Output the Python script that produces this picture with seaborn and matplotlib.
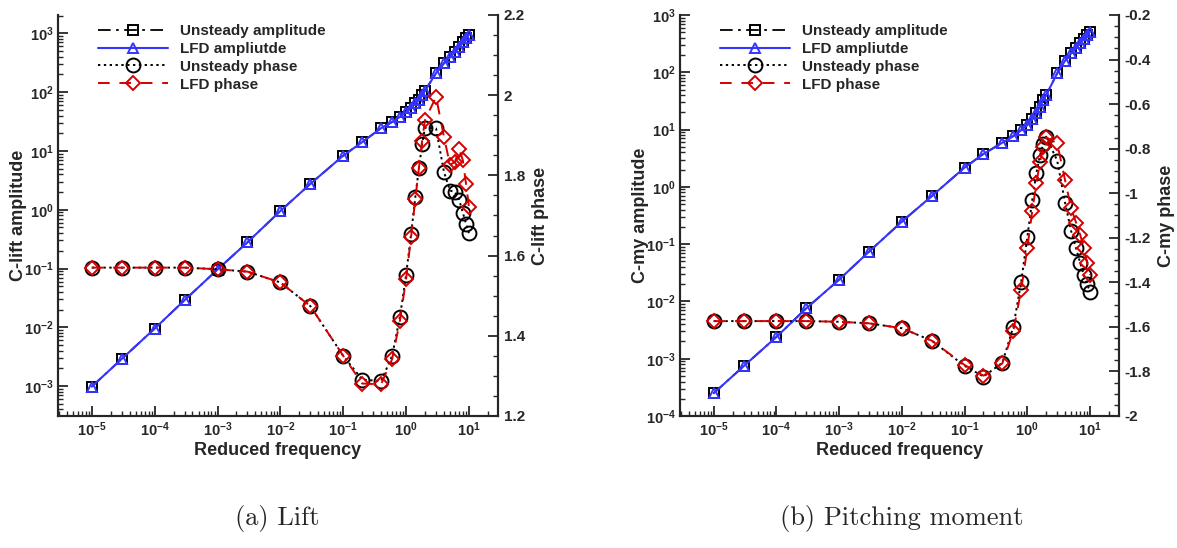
import numpy as np
import matplotlib
matplotlib.use("Agg")
import matplotlib.pyplot as plt
import seaborn as sns
from matplotlib.ticker import (FixedLocator, LogLocator, FuncFormatter, MultipleLocator,
                               NullFormatter, LogFormatterSciNotation)

# reduced frequencies (same for both cases)
freq = [1e-5, 3e-5, 1e-4, 3e-4, 1e-3, 3e-3, 1e-2, 3e-2, 0.1, 0.2, 0.4, 0.6, 0.8,
        1.0, 1.2, 1.4, 1.6, 1.8, 2.0, 3, 4, 5, 6, 7, 8, 9, 10]

# --- lift ---
lift_amp_unsteady = [9.8e-4, 2.9e-3, 9.5e-3, 2.9e-2, 0.096, 0.28, 0.95, 2.75, 8.3, 14.1,
                     24.4, 31, 38, 45.5, 54, 65, 73, 89, 106, 210, 309, 390, 476, 580,
                     700, 830, 950]
lift_amp_lfd = [9.8e-4, 2.9e-3, 9.5e-3, 2.9e-2, 0.096, 0.28, 0.95, 2.75, 8.3, 14.1,
                24.4, 31, 38, 45.5, 54, 65, 73, 89, 106, 210, 309, 390, 476, 580,
                700, 830, 950]
lift_phase_unsteady = [1.570, 1.570, 1.570, 1.570, 1.566, 1.560, 1.533, 1.474, 1.350,
                       1.291, 1.287, 1.350, 1.448, 1.552, 1.653, 1.745, 1.818, 1.878,
                       1.919, 1.917, 1.809, 1.762, 1.759, 1.739, 1.707, 1.679, 1.656]
lift_phase_lfd = [1.570, 1.570, 1.570, 1.570, 1.566, 1.560, 1.533, 1.474, 1.350,
                  1.281, 1.279, 1.342, 1.438, 1.541, 1.646, 1.740, 1.818, 1.887,
                  1.938, 1.996, 1.897, 1.826, 1.834, 1.865, 1.838, 1.778, 1.722]

# --- pitching moment ---
moment_amp_unsteady = [2.5e-4, 7.4e-4, 2.4e-3, 7.6e-3, 0.024, 0.074, 0.247, 0.69, 2.17,
                       3.75, 5.9, 7.7, 9.8, 12, 15.1, 19.2, 25, 33, 40, 96, 159, 213,
                       262, 323, 379, 448, 513]
moment_amp_lfd = [2.5e-4, 7.4e-4, 2.4e-3, 7.6e-3, 0.024, 0.074, 0.247, 0.69, 2.17,
                  3.75, 5.9, 7.7, 9.8, 12, 15.1, 19.2, 25, 33, 40, 96, 159, 213,
                  262, 323, 379, 448, 513]
moment_phase_unsteady = [-1.574, -1.574, -1.574, -1.574, -1.577, -1.584, -1.606, -1.662,
                         -1.775, -1.823, -1.761, -1.599, -1.397, -1.198, -1.030, -0.908,
                         -0.828, -0.779, -0.746, -0.854, -1.042, -1.170, -1.247, -1.315,
                         -1.367, -1.407, -1.442]
moment_phase_lfd = [-1.574, -1.574, -1.574, -1.574, -1.577, -1.584, -1.606, -1.662,
                    -1.771, -1.819, -1.764, -1.618, -1.434, -1.247, -1.080, -0.953,
                    -0.858, -0.794, -0.749, -0.776, -0.941, -1.068, -1.132, -1.188,
                    -1.247, -1.315, -1.367]

# major tick positions
x_ticks = [1e-5, 1e-4, 1e-3, 1e-2, 1e-1, 1e0, 1e1]
lift_amp_ticks = [1e-3, 1e-2, 1e-1, 1e0, 1e1, 1e2, 1e3]
moment_amp_ticks = [1e-4, 1e-3, 1e-2, 1e-1, 1e0, 1e1, 1e2, 1e3]

legend_labels = ["Unsteady amplitude", "LFD ampliutde", "Unsteady phase", "LFD phase"]

sns.set_style("ticks")
plt.rcParams["font.family"] = ["Liberation Sans", "DejaVu Sans"]
plt.rcParams["font.weight"] = "bold"
plt.rcParams["axes.labelweight"] = "bold"
plt.rcParams["axes.linewidth"] = 1.5

BLUE = "#3535ff"
RED = "#d40000"


def draw_panel(ax, amp_u, amp_l, ph_u, ph_l, amp_lim, amp_ticks, ph_lim, amp_label, ph_label):
    ax2 = ax.twinx()

    sns.lineplot(x=freq, y=amp_u, ax=ax, color="black", linestyle=(0, (7, 3, 1.5, 3)),
                 marker="s", markersize=7.5, markerfacecolor="none", markeredgecolor="black",
                 markeredgewidth=1.4, linewidth=1.3, errorbar=None, legend=False)
    sns.lineplot(x=freq, y=amp_l, ax=ax, color=BLUE, linestyle="-",
                 marker="^", markersize=7.5, markerfacecolor="none", markeredgecolor=BLUE,
                 markeredgewidth=1.4, linewidth=1.5, errorbar=None, legend=False)
    sns.lineplot(x=freq, y=ph_u, ax=ax2, color="black", linestyle=(0, (1.2, 1.8)),
                 marker="o", markersize=10, markerfacecolor="none", markeredgecolor="black",
                 markeredgewidth=1.4, linewidth=1.4, errorbar=None, legend=False)
    sns.lineplot(x=freq, y=ph_l, ax=ax2, color=RED, linestyle=(0, (6, 5)),
                 marker="D", markersize=7, markerfacecolor="none", markeredgecolor=RED,
                 markeredgewidth=1.4, linewidth=1.4, errorbar=None, legend=False)

    ax.set_xscale("log")
    ax.set_yscale("log")
    ax.set_xlim(2.9e-6, 2.9e1)
    ax.set_ylim(*amp_lim)
    ax2.set_ylim(*ph_lim)

    for a in (ax, ax2):
        a.spines["top"].set_visible(False)
        a.grid(False)

    ax.xaxis.set_major_locator(FixedLocator(x_ticks))
    ax.xaxis.set_major_formatter(LogFormatterSciNotation())
    ax.xaxis.set_minor_locator(LogLocator(base=10, subs=np.arange(2, 10), numticks=60))
    ax.xaxis.set_minor_formatter(NullFormatter())
    ax.yaxis.set_major_locator(FixedLocator(amp_ticks))
    ax.yaxis.set_major_formatter(LogFormatterSciNotation())
    ax.yaxis.set_minor_locator(LogLocator(base=10, subs=np.arange(2, 10), numticks=60))
    ax.yaxis.set_minor_formatter(NullFormatter())
    ax2.yaxis.set_major_locator(MultipleLocator(0.2))
    ax2.yaxis.set_minor_locator(MultipleLocator(0.05))
    ax2.yaxis.set_major_formatter(FuncFormatter(lambda v, p: f"{v:g}"))

    ax.tick_params(which="both", direction="in", top=False, right=False, labelsize=10.5, pad=3)
    ax.tick_params(which="major", length=7, width=1.3)
    ax.tick_params(which="minor", length=3.5, width=1.0)
    ax2.tick_params(which="both", direction="in", left=False, right=True, labelsize=11, pad=4)
    ax2.tick_params(which="major", length=7, width=1.3)
    ax2.tick_params(which="minor", length=3.5, width=1.0)

    ax.set_xlabel("Reduced frequency", fontsize=13, labelpad=2)
    ax.set_ylabel(amp_label, fontsize=13, labelpad=-2)
    ax2.set_ylabel(ph_label, fontsize=13, labelpad=5)

    handles = [ax.lines[0], ax.lines[1], ax2.lines[0], ax2.lines[1]]
    ax2.legend(handles, legend_labels, loc="upper left", bbox_to_anchor=(0.07, 1.0),
               frameon=False, fontsize=11, handlelength=4.6, handletextpad=0.8,
               labelspacing=0.25, borderaxespad=0.2)
    return ax2


fig = plt.figure(figsize=(11.77, 5.48), dpi=100)
ax_lift = fig.add_axes([58 / 1177, 1 - 416 / 548, 440 / 1177, 401 / 548])
ax_moment = fig.add_axes([680 / 1177, 1 - 416 / 548, 439 / 1177, 401 / 548])

draw_panel(ax_lift, lift_amp_unsteady, lift_amp_lfd, lift_phase_unsteady, lift_phase_lfd,
           (3.1e-4, 2.05e3), lift_amp_ticks, (1.2, 2.2), "C-lift amplitude", "C-lift phase")
draw_panel(ax_moment, moment_amp_unsteady, moment_amp_lfd, moment_phase_unsteady,
           moment_phase_lfd, (1e-4, 1e3), moment_amp_ticks, (-2.0, -0.2),
           "C-my amplitude", "C-my phase")

fig.text(277 / 1177, 1 - 518 / 548, "(a) Lift", ha="center", va="center",
         family="cmr10", fontweight="normal", fontsize=19)
fig.text(902 / 1177, 1 - 518 / 548, "(b) Pitching moment", ha="center", va="center",
         family="cmr10", fontweight="normal", fontsize=19)

fig.savefig("out.png", dpi=100)
